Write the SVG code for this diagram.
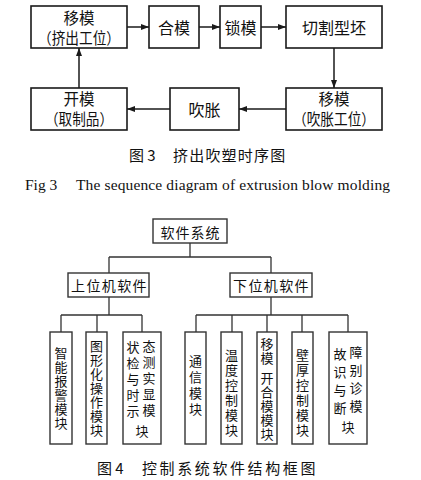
<svg xmlns="http://www.w3.org/2000/svg" width="421" height="480" viewBox="0 0 421 480">
<style>
.b{fill:#fff;stroke:#1a1a1a;stroke-width:1.6}
.t{fill:#fff;stroke:#333;stroke-width:1.4}
.c{fill:none;stroke:#1a1a1a;stroke-width:1.5}
.tc{fill:none;stroke:#333;stroke-width:1.3}
text{font-family:"Noto Sans CJK SC","Liberation Serif",sans-serif;fill:#111;dominant-baseline:central}
.m{font-size:16px;text-anchor:middle}
.m2{font-size:15.5px;text-anchor:middle}
.s{font-size:14px;text-anchor:middle}
.v{font-size:13px;text-anchor:middle}
.cap{font-size:15px}
.en{font-family:"Liberation Serif",serif;font-size:15.5px;dominant-baseline:auto}
</style>
<defs>
<marker id="ah" markerWidth="8" markerHeight="6" refX="8" refY="3" orient="auto" markerUnits="userSpaceOnUse">
<path d="M0,0 L8,3 L0,6 Z" fill="#1a1a1a"/>
</marker>
</defs>

<g id="connectors">
<line class="c" x1="127" y1="27" x2="149" y2="27" marker-end="url(#ah)"/>
<line class="c" x1="199" y1="27" x2="220" y2="27" marker-end="url(#ah)"/>
<line class="c" x1="261" y1="27" x2="286" y2="27" marker-end="url(#ah)"/>
<line class="c" x1="334" y1="48" x2="334" y2="88" marker-end="url(#ah)"/>
<line class="c" x1="286" y1="109" x2="239" y2="109" marker-end="url(#ah)"/>
<line class="c" x1="170" y1="109" x2="127" y2="109" marker-end="url(#ah)"/>
<line class="c" x1="79" y1="88" x2="79" y2="48" marker-end="url(#ah)"/>

<path class="tc" d="M190,243 V257 M109,257 H271 M109,257 V273 M271,257 V273"/>
<path class="tc" d="M109,297 V315 M61,315 H142 M61,315 V332 M97,315 V332 M142,315 V332"/>
<path class="tc" d="M271,297 V315 M196,315 H348 M196,315 V332 M232,315 V332 M267,315 V332 M302,315 V332 M348,315 V332"/>
</g>

<g id="n-yimo1"><rect class="b" x="31" y="6" width="96" height="42"/>
<text class="m2"><tspan x="79" y="17">移模</tspan><tspan x="79" y="37" textLength="82" lengthAdjust="spacingAndGlyphs">（挤出工位）</tspan></text></g>
<g id="n-hemo"><rect class="b" x="149" y="6" width="50" height="42"/><text class="m" x="174" y="27">合模</text></g>
<g id="n-suomo"><rect class="b" x="220" y="6" width="41" height="42"/><text class="m" x="240.5" y="27">锁模</text></g>
<g id="n-qiege"><rect class="b" x="286" y="6" width="96" height="42"/><text class="m" x="334" y="27">切割型坯</text></g>
<g id="n-yimo2"><rect class="b" x="286" y="88" width="96" height="42"/>
<text class="m2"><tspan x="334" y="98">移模</tspan><tspan x="334" y="118" textLength="82" lengthAdjust="spacingAndGlyphs">（吹胀工位）</tspan></text></g>
<g id="n-chuizhang"><rect class="b" x="170" y="88" width="69" height="42"/><text class="m" x="204.5" y="109">吹胀</text></g>
<g id="n-kaimo"><rect class="b" x="31" y="88" width="96" height="42"/>
<text class="m2"><tspan x="79" y="98">开模</tspan><tspan x="79" y="118" textLength="68" lengthAdjust="spacingAndGlyphs">（取制品）</tspan></text></g>

<text class="cap" x="129" y="154">图 3</text>
<text class="cap" x="173" y="154" letter-spacing="1.2">挤出吹塑时序图</text>
<text class="en" x="25" y="190">Fig 3</text>
<text class="en" x="76" y="190" textLength="314" lengthAdjust="spacing">The sequence diagram of extrusion blow molding</text>

<g id="n-root"><rect class="t" x="153" y="219" width="74" height="24"/><text class="s" x="190.5" y="231.5" letter-spacing="1">软件系统</text></g>
<g id="n-upper"><rect class="t" x="68" y="273" width="81" height="24"/><text class="s" x="109.5" y="285" letter-spacing="1.4">上位机软件</text></g>
<g id="n-lower"><rect class="t" x="230" y="273" width="82" height="24"/><text class="s" x="271.5" y="285" letter-spacing="1.4">下位机软件</text></g>

<g id="n-alarm"><rect class="t" x="50" y="332" width="22" height="112"/>
<text class="v"><tspan x="61" y="352">智</tspan><tspan x="61" y="366">能</tspan><tspan x="61" y="380">报</tspan><tspan x="61" y="394">警</tspan><tspan x="61" y="408">模</tspan><tspan x="61" y="422">块</tspan></text></g>
<g id="n-gui"><rect class="t" x="86" y="332" width="21" height="112"/>
<text class="v"><tspan x="96.5" y="345">图</tspan><tspan x="96.5" y="359">形</tspan><tspan x="96.5" y="373">化</tspan><tspan x="96.5" y="387">操</tspan><tspan x="96.5" y="401">作</tspan><tspan x="96.5" y="415">模</tspan><tspan x="96.5" y="429">块</tspan></text></g>
<g id="n-monitor"><rect class="t" x="123" y="332" width="38" height="112"/>
<text class="v"><tspan x="133" y="346">状</tspan><tspan x="133" y="362">检</tspan><tspan x="133" y="378">与</tspan><tspan x="133" y="394">时</tspan><tspan x="133" y="410">示</tspan></text>
<text class="v"><tspan x="149" y="345">态</tspan><tspan x="149" y="361">测</tspan><tspan x="149" y="377">实</tspan><tspan x="149" y="393">显</tspan><tspan x="149" y="409">模</tspan></text>
<text class="v" x="142" y="430">块</text></g>

<g id="n-comm"><rect class="t" x="185" y="332" width="21" height="112"/>
<text class="v"><tspan x="195.5" y="360">通</tspan><tspan x="195.5" y="376">信</tspan><tspan x="195.5" y="392">模</tspan><tspan x="195.5" y="408">块</tspan></text></g>
<g id="n-temp"><rect class="t" x="221" y="332" width="21" height="112"/>
<text class="v"><tspan x="231.5" y="354">温</tspan><tspan x="231.5" y="369">度</tspan><tspan x="231.5" y="384">控</tspan><tspan x="231.5" y="399">制</tspan><tspan x="231.5" y="414">模</tspan><tspan x="231.5" y="429">块</tspan></text></g>
<g id="n-mold"><rect class="t" x="257" y="332" width="20" height="112"/>
<text class="v"><tspan x="267" y="343">移</tspan><tspan x="267" y="357">模</tspan><tspan x="267" y="377">开</tspan><tspan x="267" y="391">合</tspan><tspan x="267" y="405">模</tspan><tspan x="267" y="419">模</tspan><tspan x="267" y="433">块</tspan></text></g>
<g id="n-wall"><rect class="t" x="292" y="332" width="21" height="112"/>
<text class="v"><tspan x="302.5" y="354">壁</tspan><tspan x="302.5" y="369">厚</tspan><tspan x="302.5" y="384">控</tspan><tspan x="302.5" y="399">制</tspan><tspan x="302.5" y="414">模</tspan><tspan x="302.5" y="429">块</tspan></text></g>
<g id="n-fault"><rect class="t" x="329" y="332" width="38" height="112"/>
<text class="v"><tspan x="340" y="353">故</tspan><tspan x="340" y="371">识</tspan><tspan x="340" y="389">与</tspan><tspan x="340" y="407">断</tspan></text>
<text class="v"><tspan x="356" y="351">障</tspan><tspan x="356" y="369">别</tspan><tspan x="356" y="387">诊</tspan><tspan x="356" y="405">模</tspan></text>
<text class="v" x="348" y="426">块</text></g>

<text class="cap" x="97" y="467">图 4</text>
<text class="cap" x="142" y="467" letter-spacing="2.6">控制系统软件结构框图</text>
</svg>
